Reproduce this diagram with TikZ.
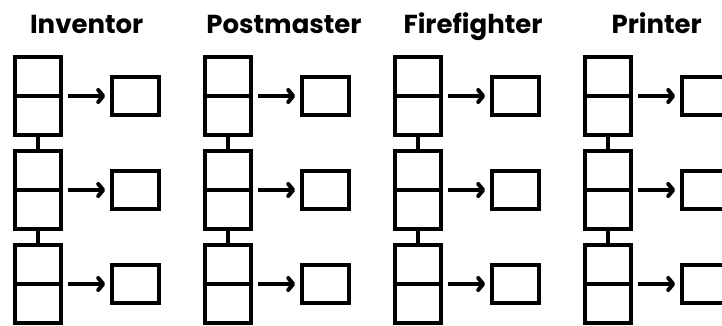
\documentclass[tikz,border=0pt]{standalone}
\usepackage{fontspec}
\setmainfont{Poppins}
\usetikzlibrary{arrows.meta,positioning}

\begin{document}
\begin{tikzpicture}[x=1pt, y=1pt, line width=4pt, >={Straight Barb[length=5pt,width=12pt,round]}, on grid,
   tall/.style={draw, rectangle, minimum width=46pt, minimum height=78pt, inner sep=0pt},
   slot/.style={draw, rectangle, minimum width=47pt, minimum height=38pt, inner sep=0pt},
   title/.style={font=\bfseries\fontsize{26}{26}\selectfont, anchor=base}]
   \useasboundingbox (0,0) rectangle (722,325);
   \clip (0,0) rectangle (722,325);
   \foreach \name/\txt/\tx [count=\i from 0] in {inv/Inventor/86.7, pm/Postmaster/284, ff/Firefighter/473, pr/Printer/656.7} {
      \node[title] (\name-t) at (\tx, 292) {\txt};
      \node[tall] (\name1) at (37.7+190*\i, 229) {};
      \node[tall] (\name2) [below=94pt of \name1] {};
      \node[tall] (\name3) [below=94pt of \name2] {};
      \foreach \r in {1,2,3} {
         \node[slot] (\name-s\r) [right=98pt of \name\r] {};
         \draw (\name\r.west) -- (\name\r.east);
         \draw[->, shorten <=5pt, shorten >=5pt] (\name\r.east) -- (\name-s\r.west);
      }
      \draw (\name1.south) -- (\name2.north);
      \draw (\name2.south) -- (\name3.north);
   }
\end{tikzpicture}
\end{document}
